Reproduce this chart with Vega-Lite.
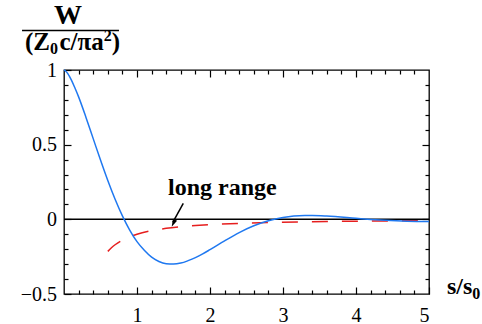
{
  "$schema": "https://vega.github.io/schema/vega-lite/v6.json",
  "width": 365,
  "height": 224,
  "autosize": "none",
  "padding": {"left": 64, "top": 70, "right": 53, "bottom": 30},
  "background": "white",
  "config": {
    "view": {"stroke": "black", "strokeWidth": 1.3},
    "axis": {"domain": false, "grid": false, "labelFont": "Liberation Serif", "labelFontSize": 20, "labelColor": "black", "tickColor": "black", "tickWidth": 1.2, "title": null, "format": "~g"},
    "text": {"font": "Liberation Serif", "fontWeight": "bold", "color": "black"}
  },
  "datasets": {
    "wake": [
      {"s": 0, "W": 1.0},
      {"s": 0.025, "W": 0.992},
      {"s": 0.05, "W": 0.977},
      {"s": 0.1, "W": 0.9336},
      {"s": 0.15, "W": 0.879},
      {"s": 0.2, "W": 0.820},
      {"s": 0.3, "W": 0.6844},
      {"s": 0.4, "W": 0.5404},
      {"s": 0.5, "W": 0.3966},
      {"s": 0.6, "W": 0.2596},
      {"s": 0.7, "W": 0.1340},
      {"s": 0.8, "W": 0.0229},
      {"s": 0.9, "W": -0.0718},
      {"s": 1.0, "W": -0.1494},
      {"s": 1.1, "W": -0.2074},
      {"s": 1.2, "W": -0.2536},
      {"s": 1.3, "W": -0.2821},
      {"s": 1.4, "W": -0.2970},
      {"s": 1.5, "W": -0.2999},
      {"s": 1.6, "W": -0.2929},
      {"s": 1.7, "W": -0.2768},
      {"s": 1.8, "W": -0.2566},
      {"s": 1.9, "W": -0.2312},
      {"s": 2.0, "W": -0.2029},
      {"s": 2.2, "W": -0.1439},
      {"s": 2.4, "W": -0.0887},
      {"s": 2.6, "W": -0.0430},
      {"s": 2.8, "W": -0.0091},
      {"s": 3.0, "W": 0.0125},
      {"s": 3.3, "W": 0.0254},
      {"s": 3.4, "W": 0.0257},
      {"s": 3.6, "W": 0.0222},
      {"s": 4.0, "W": 0.0073},
      {"s": 4.2, "W": -0.0004},
      {"s": 4.4, "W": -0.0068},
      {"s": 4.7, "W": -0.0131},
      {"s": 5.0, "W": -0.0153}
    ],
    "longrange": [
      {"s": 0.6, "W": -0.2146},
      {"s": 0.65, "W": -0.1903},
      {"s": 0.7, "W": -0.1703},
      {"s": 0.8, "W": -0.1394},
      {"s": 0.9, "W": -0.1168},
      {"s": 1.0, "W": -0.0997},
      {"s": 1.2, "W": -0.0759},
      {"s": 1.4, "W": -0.0602},
      {"s": 1.6, "W": -0.0493},
      {"s": 1.8, "W": -0.0413},
      {"s": 2.0, "W": -0.0353},
      {"s": 2.4, "W": -0.0268},
      {"s": 2.8, "W": -0.0213},
      {"s": 3.2, "W": -0.0174},
      {"s": 3.6, "W": -0.0146},
      {"s": 4.0, "W": -0.0125},
      {"s": 4.5, "W": -0.0104},
      {"s": 5.0, "W": -0.0089}
    ],
    "one": [{}]
  },
  "resolve": {"axis": {"x": "independent", "y": "independent"}},
  "layer": [
    {
      "data": {"name": "one"},
      "mark": {"type": "rule", "color": "black", "strokeWidth": 1.5},
      "encoding": {
        "x": {"datum": 0, "type": "quantitative", "scale": {"domain": [0, 5], "nice": false, "zero": false},
              "axis": {"orient": "top", "values": [1, 2, 3, 4], "labels": false, "tickSize": -7}},
        "x2": {"datum": 5},
        "y": {"datum": 0, "type": "quantitative", "scale": {"domain": [-0.5, 1], "nice": false, "zero": false},
              "axis": {"orient": "right", "values": [0, 0.5], "labels": false, "tickSize": -7}}
      }
    },
    {
      "data": {"name": "longrange"},
      "mark": {"type": "line", "color": "#e61e1e", "strokeWidth": 1.5, "strokeDash": [16, 14], "interpolate": "monotone"},
      "encoding": {
        "x": {"field": "s", "type": "quantitative", "scale": {"domain": [0, 5], "nice": false, "zero": false},
              "axis": {"orient": "bottom", "values": [0.2, 0.4, 0.6, 0.8, 1.2, 1.4, 1.6, 1.8, 2.2, 2.4, 2.6, 2.8, 3.2, 3.4, 3.6, 3.8, 4.2, 4.4, 4.6, 4.8], "labels": false, "tickSize": -4}},
        "y": {"field": "W", "type": "quantitative", "scale": {"domain": [-0.5, 1], "nice": false, "zero": false},
              "axis": {"orient": "left", "values": [-0.4, -0.3, -0.2, -0.1, 0.1, 0.2, 0.3, 0.4, 0.6, 0.7, 0.8, 0.9], "labels": false, "tickSize": -4}}
      }
    },
    {
      "data": {"name": "wake"},
      "mark": {"type": "line", "color": "#1f78f0", "strokeWidth": 1.5, "interpolate": "monotone"},
      "encoding": {
        "x": {"field": "s", "type": "quantitative", "scale": {"domain": [0, 5], "nice": false, "zero": false},
              "axis": {"orient": "bottom", "values": [1, 2, 3, 4, 5], "tickSize": -7, "labelPadding": 18}},
        "y": {"field": "W", "type": "quantitative", "scale": {"domain": [-0.5, 1], "nice": false, "zero": false},
              "axis": {"orient": "left", "values": [-0.5, 0, 0.5, 1], "tickSize": -7, "labelPadding": 14.5}}
      }
    },
    {
      "data": {"name": "one"},
      "mark": {"type": "text", "text": "long range", "fontSize": 24, "align": "left", "baseline": "alphabetic"},
      "encoding": {
        "x": {"datum": 1.4247, "type": "quantitative", "scale": {"domain": [0, 5], "nice": false, "zero": false},
              "axis": {"orient": "top", "values": [0.2, 0.4, 0.6, 0.8, 1.2, 1.4, 1.6, 1.8, 2.2, 2.4, 2.6, 2.8, 3.2, 3.4, 3.6, 3.8, 4.2, 4.4, 4.6, 4.8], "labels": false, "tickSize": -4}},
        "y": {"datum": 0.1629, "type": "quantitative", "scale": {"domain": [-0.5, 1], "nice": false, "zero": false},
              "axis": {"orient": "right", "values": [-0.4, -0.3, -0.2, -0.1, 0.1, 0.2, 0.3, 0.4, 0.6, 0.7, 0.8, 0.9], "labels": false, "tickSize": -4}}
      }
    },
    {
      "data": {"name": "one"},
      "mark": {"type": "rule", "color": "black", "strokeWidth": 1.5},
      "encoding": {
        "x": {"datum": 1.634, "type": "quantitative", "axis": null},
        "y": {"datum": 0.107, "type": "quantitative", "axis": null},
        "x2": {"datum": 1.49},
        "y2": {"datum": -0.02}
      }
    },
    {
      "data": {"name": "one"},
      "mark": {"type": "point", "shape": "M0,0L-0.65,-2.2L0.65,-2.2Z", "size": 49, "filled": true, "color": "black", "opacity": 1, "angle": 26},
      "encoding": {
        "x": {"datum": 1.475, "type": "quantitative", "axis": null},
        "y": {"datum": -0.0496, "type": "quantitative", "axis": null}
      }
    },
    {
      "data": {"name": "one"},
      "mark": {"type": "text", "text": "W", "fontSize": 28, "align": "center", "baseline": "alphabetic", "dx": 4, "dy": -46},
      "encoding": {
        "x": {"datum": 0, "type": "quantitative", "axis": null},
        "y": {"datum": 1, "type": "quantitative", "axis": null}
      }
    },
    {
      "data": {"name": "one"},
      "mark": {"type": "rule", "color": "black", "strokeWidth": 1.6},
      "encoding": {
        "x": {"datum": -0.575, "type": "quantitative", "axis": null},
        "x2": {"datum": 0.753},
        "y": {"datum": 1.2645, "type": "quantitative", "axis": null}
      }
    },
    {
      "data": {"name": "one"},
      "mark": {"type": "text", "text": "(Z", "fontSize": 25, "align": "left", "baseline": "alphabetic", "dx": -39, "dy": -20},
      "encoding": {
        "x": {"datum": 0, "type": "quantitative", "axis": null},
        "y": {"datum": 1, "type": "quantitative", "axis": null}
      }
    },
    {
      "data": {"name": "one"},
      "mark": {"type": "text", "text": "0", "fontSize": 16, "align": "left", "baseline": "alphabetic", "dx": -14, "dy": -16},
      "encoding": {
        "x": {"datum": 0, "type": "quantitative", "axis": null},
        "y": {"datum": 1, "type": "quantitative", "axis": null}
      }
    },
    {
      "data": {"name": "one"},
      "mark": {"type": "text", "text": "c/πa", "fontSize": 25, "align": "right", "baseline": "alphabetic", "dx": 39.7, "dy": -20},
      "encoding": {
        "x": {"datum": 0, "type": "quantitative", "axis": null},
        "y": {"datum": 1, "type": "quantitative", "axis": null}
      }
    },
    {
      "data": {"name": "one"},
      "mark": {"type": "text", "text": "2", "fontSize": 16, "align": "right", "baseline": "alphabetic", "dx": 47.7, "dy": -29},
      "encoding": {
        "x": {"datum": 0, "type": "quantitative", "axis": null},
        "y": {"datum": 1, "type": "quantitative", "axis": null}
      }
    },
    {
      "data": {"name": "one"},
      "mark": {"type": "text", "text": ")", "fontSize": 25, "align": "right", "baseline": "alphabetic", "dx": 56, "dy": -20},
      "encoding": {
        "x": {"datum": 0, "type": "quantitative", "axis": null},
        "y": {"datum": 1, "type": "quantitative", "axis": null}
      }
    },
    {
      "data": {"name": "one"},
      "mark": {"type": "text", "text": "s/s", "fontSize": 24, "align": "left", "baseline": "alphabetic", "dx": 18, "dy": 0},
      "encoding": {
        "x": {"datum": 5, "type": "quantitative", "axis": null},
        "y": {"datum": -0.5, "type": "quantitative", "axis": null}
      }
    },
    {
      "data": {"name": "one"},
      "mark": {"type": "text", "text": "0", "fontSize": 16, "align": "left", "baseline": "alphabetic", "dx": 43.3, "dy": 5},
      "encoding": {
        "x": {"datum": 5, "type": "quantitative", "axis": null},
        "y": {"datum": -0.5, "type": "quantitative", "axis": null}
      }
    }
  ]
}
